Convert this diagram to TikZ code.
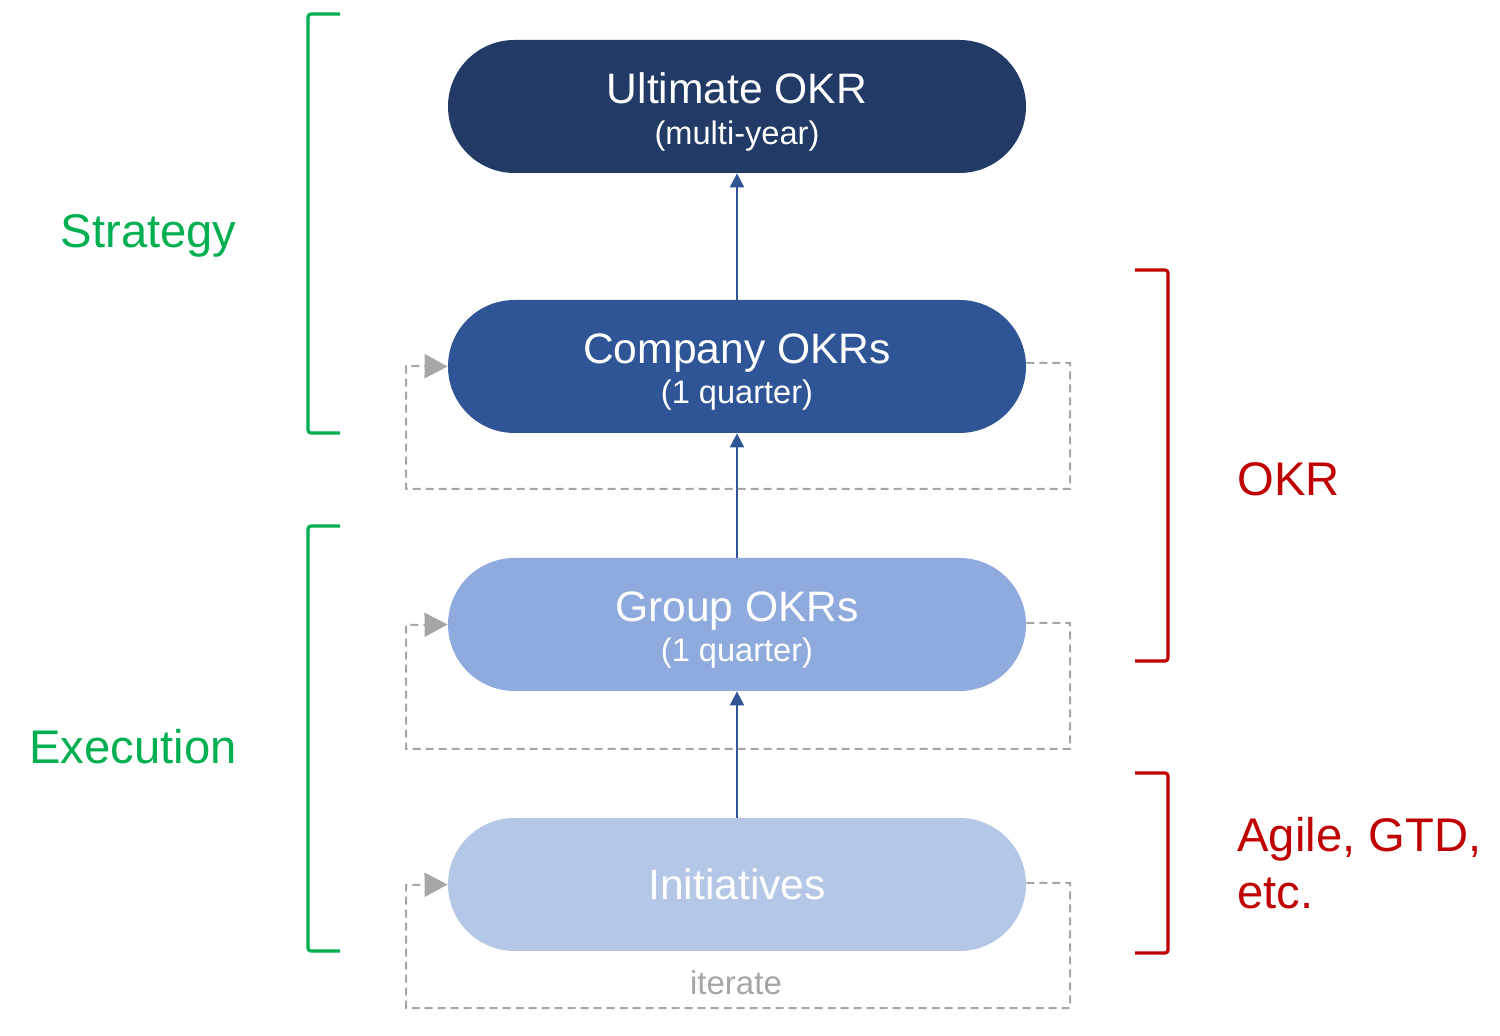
\documentclass[tikz,border=0pt]{standalone}
\usepackage{fontspec}
\setmainfont{Liberation Sans}
\usetikzlibrary{arrows.meta}
\definecolor{navy}{HTML}{213A66}
\definecolor{midblue}{HTML}{2F5597}
\definecolor{lightblue}{HTML}{8FAADC}
\definecolor{paleblue}{HTML}{B4C7E7}
\definecolor{loopgray}{HTML}{A6A6A6}
\definecolor{stratgreen}{HTML}{00B050}
\definecolor{okrred}{HTML}{C00000}
\begin{document}
\begin{tikzpicture}[x=0.5pt,y=-0.5pt,
  pill/.style={rectangle,rounded corners=33.25pt,minimum width=289pt,minimum height=66.5pt,inner sep=0pt,draw=none},
  title/.style={anchor=base,text=white,font=\fontsize{21.3}{25}\selectfont,inner sep=0pt},
  sub/.style={anchor=base,text=white,font=\fontsize{16.3}{19}\selectfont,inner sep=0pt},
  up/.style={draw=midblue,line width=1pt,-{Triangle[width=7pt,length=7pt]}},
  loop/.style={draw=loopgray,line width=1pt,dash pattern=on 4pt off 2.5pt,-{Triangle[width=12pt,length=11.5pt]}},
  gbr/.style={draw=stratgreen,line width=1.6pt,rounded corners=1.5pt},
  rbr/.style={draw=okrred,line width=1.6pt,rounded corners=1.5pt},
  side/.style={font=\fontsize{23.6}{29}\selectfont,inner sep=0pt}]
\useasboundingbox (0,0) rectangle (1500,1036);
% pills
\node[pill,fill=navy] (u) at (737,106.5) {};
\node[pill,fill=midblue] (c) at (737,366.5) {};
\node[pill,fill=lightblue] (g) at (737,624.5) {};
\node[pill,fill=paleblue] (i) at (737,884.5) {};
% texts
\node[title] (ut) at (737,104) {Ultimate OKR};
\node[sub] (us) at (737,145) {(multi-year)};
\node[title] (ct) at (737,364) {Company OKRs};
\node[sub] (cs) at (737,404) {(1 quarter)};
\node[title] (gt) at (737,622) {Group OKRs};
\node[sub] (gs) at (737,662) {(1 quarter)};
\node[title] (it) at (737,900) {Initiatives};
\node[anchor=base,text=loopgray,font=\fontsize{16.5}{20}\selectfont,inner sep=0pt] (iter) at (736,994) {iterate};
% up arrows
\draw[up] (c.north) -- (u.south);
\draw[up] (g.north) -- (c.south);
\draw[up] (i.north) -- (g.south);
% loops
\coordinate (c1) at (1070,363); \coordinate (c2) at (1070,489); \coordinate (c3) at (406,489); \coordinate (c4) at (406,366);
\draw[loop] (c.east |- c1) -- (c1) -- (c2) -- (c3) -- (c4) -- (c.west);
\coordinate (g1) at (1070,623); \coordinate (g2) at (1070,749); \coordinate (g3) at (406,749); \coordinate (g4) at (406,625);
\draw[loop] (g.east |- g1) -- (g1) -- (g2) -- (g3) -- (g4) -- (g.west);
\coordinate (i1) at (1070,883); \coordinate (i2) at (1070,1008); \coordinate (i3) at (406,1008); \coordinate (i4) at (406,885);
\draw[loop] (i.east |- i1) -- (i1) -- (i2) -- (i3) -- (i4) -- (i.west);
% brackets
\coordinate (sa) at (340,14); \coordinate (sb) at (308,14); \coordinate (sc) at (308,433); \coordinate (sd) at (340,433);
\draw[gbr] (sa) -- (sb) -- (sc) -- (sd);
\coordinate (ea) at (340,526); \coordinate (eb) at (308,526); \coordinate (ec) at (308,951); \coordinate (ed) at (340,951);
\draw[gbr] (ea) -- (eb) -- (ec) -- (ed);
\coordinate (oa) at (1135,270); \coordinate (ob) at (1168,270); \coordinate (oc) at (1168,661); \coordinate (od) at (1135,661);
\draw[rbr] (oa) -- (ob) -- (oc) -- (od);
\coordinate (aa) at (1135,773); \coordinate (ab) at (1168,773); \coordinate (ac) at (1168,953); \coordinate (ad) at (1135,953);
\draw[rbr] (aa) -- (ab) -- (ac) -- (ad);
% side labels
\node[side,text=stratgreen,anchor=base east] (strat) at (237,248) {Strategy};
\node[side,text=stratgreen,anchor=base east] (exec) at (237,764) {Execution};
\node[side,text=okrred,anchor=base west] (okr) at (1237,496) {OKR};
\node[side,text=okrred,anchor=north west,align=left,font=\fontsize{23.6}{28.5}\selectfont] (agile) at (1237,817) {Agile, GTD,\\etc.};
\end{tikzpicture}
\end{document}
